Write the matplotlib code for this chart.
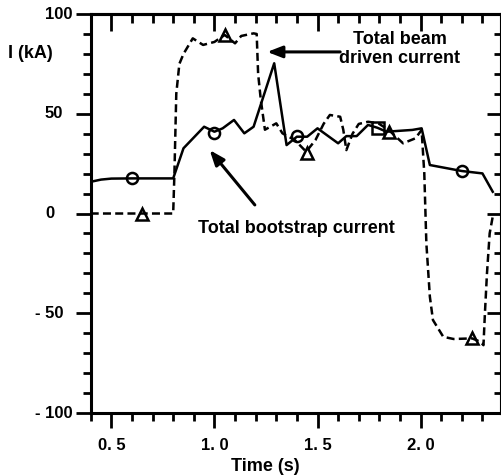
import matplotlib
matplotlib.use('Agg')
import matplotlib.pyplot as plt
import numpy as np
from matplotlib.ticker import MultipleLocator, FixedLocator
from matplotlib.transforms import ScaledTranslation

plt.rcParams['font.family'] = ['Liberation Sans', 'DejaVu Sans']
plt.rcParams['font.weight'] = 'bold'

# bootstrap current (solid)
t_bs = [0.40, 0.45, 0.50, 0.60, 0.80, 0.85, 0.95, 1.00, 1.04, 1.095, 1.145, 1.19,
        1.29, 1.35, 1.40, 1.45, 1.50, 1.60, 1.64, 1.69, 1.745, 1.79, 1.835, 1.89,
        1.96, 2.005, 2.045, 2.20, 2.30, 2.35]
i_bs = [15.9, 17.0, 17.5, 17.6, 17.6, 32.7, 43.5, 41.0, 42.7, 46.9, 40.2, 43.5,
        75.3, 34.3, 38.5, 38.5, 42.7, 35.2, 38.8, 38.8, 44.4, 43.0, 41.0, 41.4,
        41.9, 42.7, 24.3, 21.3, 20.1, 10.9]

# beam driven current (dashed)
t_nb = [0.40, 0.80, 0.806, 0.815, 0.83, 0.85, 0.895, 0.945, 1.00, 1.05, 1.10, 1.13,
        1.19, 1.205, 1.212, 1.225, 1.245, 1.30, 1.33, 1.39, 1.445, 1.49, 1.53, 1.56,
        1.61, 1.625, 1.64, 1.67, 1.70, 1.745, 1.795, 1.845, 1.915, 1.975, 2.005,
        2.018, 2.028, 2.045, 2.06, 2.11, 2.16, 2.25, 2.29, 2.305, 2.312, 2.322, 2.335, 2.35]
i_nb = [0.0, 0.0, 20.0, 60.0, 75.0, 80.0, 87.8, 84.5, 86.0, 89.5, 85.3, 89.0,
        90.3, 90.0, 70.0, 57.0, 42.0, 45.2, 40.2, 36.8, 31.0, 36.8, 45.0, 49.4,
        48.5, 42.0, 31.8, 40.0, 44.9, 46.0, 45.2, 41.9, 35.2, 37.7, 41.9,
        20.0, -15.0, -41.7, -53.4, -61.8, -62.9, -62.6, -64.3, -66.0, -50.0, -30.0, -10.0, -1.5]

# markers
t_circ = [0.60, 1.00, 1.40, 2.20]
i_circ = [17.6, 40.5, 39.0, 21.3]
t_sq = [1.795]
i_sq = [42.8]
t_tri = [0.65, 1.05, 1.45, 1.845, 2.25]
i_tri = [0.0, 89.5, 30.5, 40.8, -62.6]

xticks = [0.5, 1.0, 1.5, 2.0]
xticklabels = ['0. 5', '1. 0', '1. 5', '2. 0']
yticks = [-100, -50, 0, 50, 100]
yticklabels = ['- 100', '- 50', '0', '50', '100']

fig = plt.figure(figsize=(5.02, 4.75), dpi=100)
ax = fig.add_axes([0.1807, 0.1305, 0.8173, 0.84])

ax.plot(t_bs, i_bs, color='black', lw=1.8)
ax.plot(t_nb, i_nb, color='black', lw=1.8, linestyle=(0, (3.2, 1.7)))
mk = dict(linestyle='none', color='black', mfc='none', mew=1.8, ms=8)
ax.plot(t_circ, i_circ, marker='o', **mk)
ax.plot(t_sq, i_sq, marker='s', **mk)
ax.plot(t_tri, i_tri, marker='^', **mk)

ax.set_xlim(0.4, 2.39)
ax.set_ylim(-100, 100)

for s in ax.spines.values():
    s.set_linewidth(2.2)

ax.xaxis.set_major_locator(FixedLocator(xticks))
ax.xaxis.set_minor_locator(MultipleLocator(0.1))
ax.yaxis.set_major_locator(FixedLocator(yticks))
ax.yaxis.set_minor_locator(MultipleLocator(10))
ax.tick_params(which='both', direction='out', width=2.0, top=False, right=False,
               labelsize=12)
ax.tick_params(which='major', length=11)
ax.tick_params(which='minor', length=5.8)
ax.tick_params(axis='x', which='major', pad=7)
ax.tick_params(axis='y', which='major', pad=22)
ax.set_xticklabels(xticklabels, fontweight='bold')
ax.set_yticklabels(yticklabels, fontweight='bold', ha='left', va='center')
for lab, v in zip(ax.get_yticklabels(), yticks):
    if v < 0:
        lab.set_transform(lab.get_transform() +
                          ScaledTranslation(-10 / 100, 0, fig.dpi_scale_trans))

# inward ticks on top and right
secx = ax.secondary_xaxis('top')
secx.xaxis.set_major_locator(FixedLocator(xticks))
secx.xaxis.set_minor_locator(MultipleLocator(0.1))
secx.tick_params(which='both', direction='in', width=2.0, labeltop=False)
secx.tick_params(which='major', length=12)
secx.tick_params(which='minor', length=6.5)
secx.spines['top'].set_linewidth(2.2)
secy = ax.secondary_yaxis('right')
secy.yaxis.set_major_locator(FixedLocator(yticks))
secy.yaxis.set_minor_locator(MultipleLocator(10))
secy.tick_params(which='both', direction='in', width=2.0, labelright=False)
secy.tick_params(which='major', length=10)
secy.tick_params(which='minor', length=5)
secy.spines['right'].set_linewidth(2.2)

ax.set_xlabel('Time (s)', fontsize=13, fontweight='bold', va='center')
ax.xaxis.set_label_coords(0.4248, -0.135)
ax.set_ylabel('I (kA)', fontsize=13, fontweight='bold', rotation=0, ha='left', va='center')
ax.yaxis.set_label_coords(-0.2016, 0.902)

arrow = dict(arrowstyle='-|>,head_length=0.9,head_width=0.35', color='black', lw=2.2,
             shrinkA=0, shrinkB=0)
ax.annotate('', xy=(1.256, 81), xytext=(1.61, 81), arrowprops=arrow)
ax.text(1.90, 82.5, 'Total beam\ndriven current', ha='center', va='center',
        fontsize=13, fontweight='bold', linespacing=1.12)
ax.annotate('', xy=(0.977, 31.8), xytext=(1.196, 4.3), arrowprops=arrow)
ax.text(1.396, -7.3, 'Total bootstrap current', ha='center', va='center',
        fontsize=13, fontweight='bold')

fig.savefig('out.png', dpi=100)
